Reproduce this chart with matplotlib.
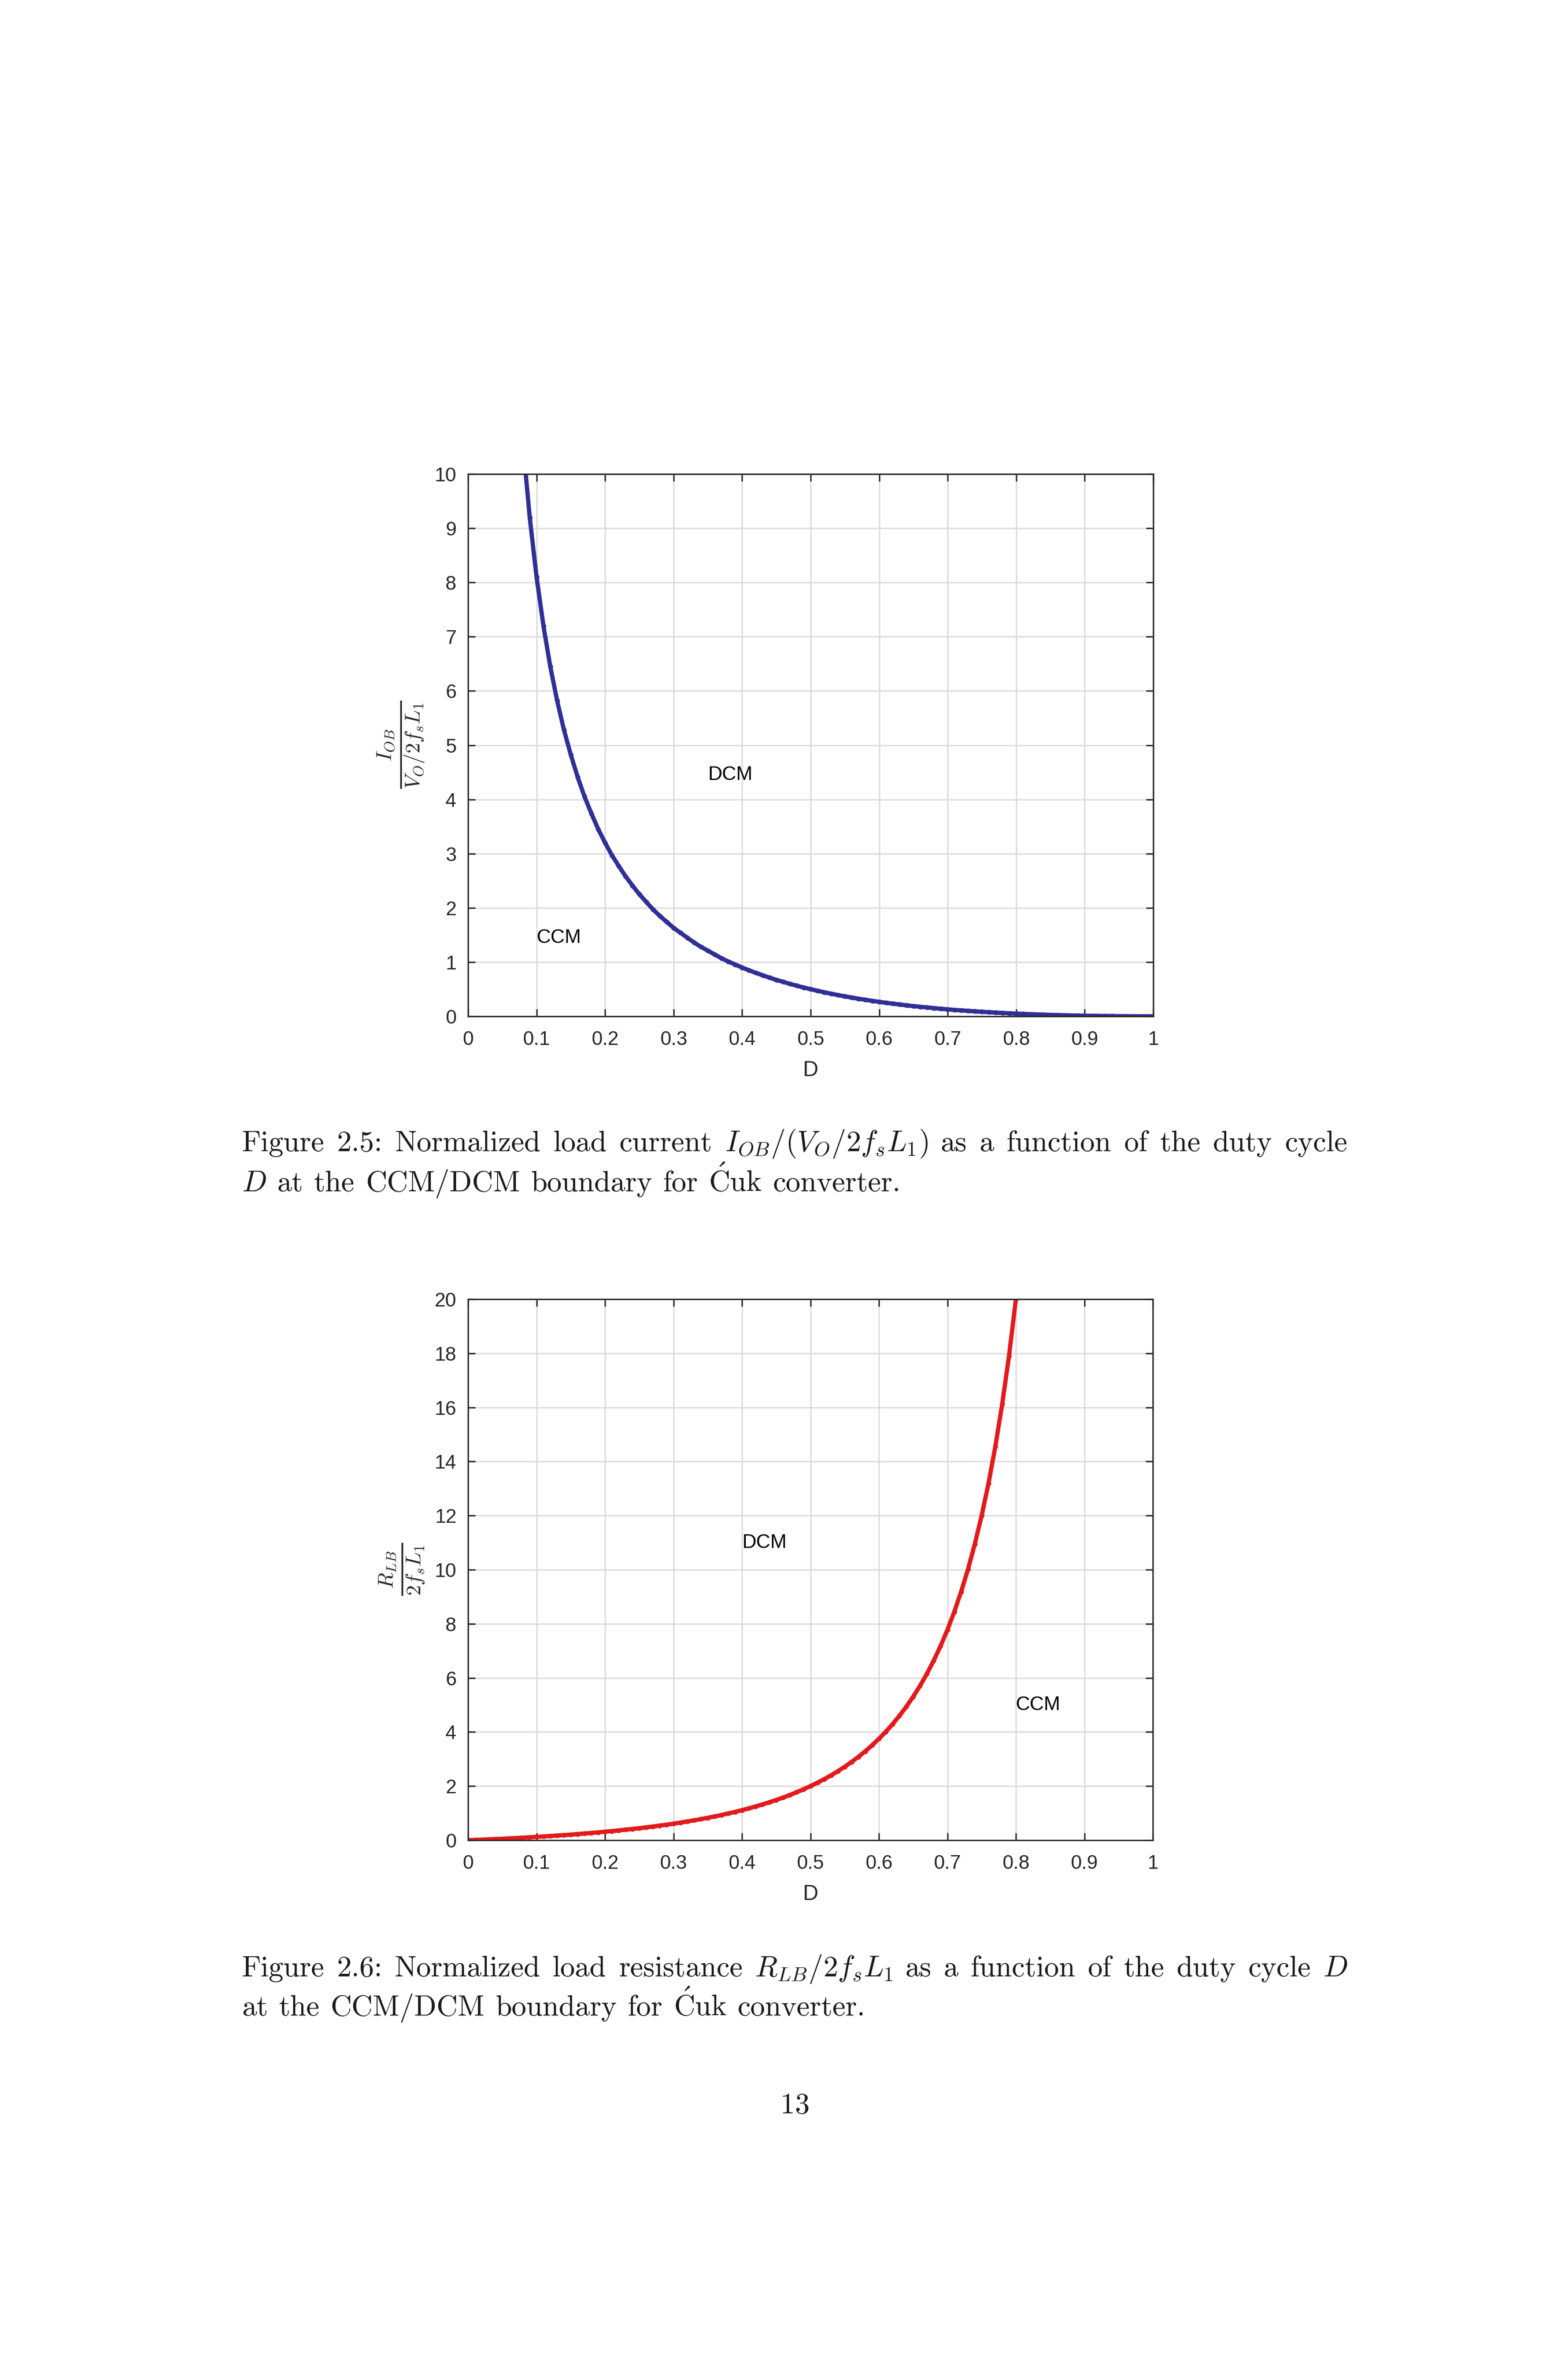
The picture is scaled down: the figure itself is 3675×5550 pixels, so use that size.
import numpy as np
import matplotlib
matplotlib.use('Agg')
import matplotlib.pyplot as plt

# duty cycle values and curves
d_iob = [0.08, 0.09, 0.10, 0.11, 0.12, 0.13, 0.14, 0.15, 0.16, 0.17, 0.18, 0.19,
         0.20, 0.21, 0.22, 0.23, 0.24, 0.25, 0.26, 0.27, 0.28, 0.29, 0.30, 0.31,
         0.32, 0.33, 0.34, 0.35, 0.36, 0.37, 0.38, 0.39, 0.40, 0.41, 0.42, 0.43,
         0.44, 0.45, 0.46, 0.47, 0.48, 0.49, 0.50, 0.51, 0.52, 0.53, 0.54, 0.55,
         0.56, 0.57, 0.58, 0.59, 0.60, 0.61, 0.62, 0.63, 0.64, 0.65, 0.66, 0.67,
         0.68, 0.69, 0.70, 0.71, 0.72, 0.73, 0.74, 0.75, 0.76, 0.77, 0.78, 0.79,
         0.80, 0.81, 0.82, 0.83, 0.84, 0.85, 0.86, 0.87, 0.88, 0.89, 0.90, 0.91,
         0.92, 0.93, 0.94, 0.95, 0.96, 0.97, 0.98, 0.99, 1.00]
iob = [10.58, 9.20, 8.10, 7.20, 6.45, 5.82, 5.28, 4.82, 4.41, 4.05, 3.74, 3.45,
       3.20, 2.97, 2.77, 2.58, 2.41, 2.25, 2.11, 1.97, 1.85, 1.74, 1.63, 1.54,
       1.45, 1.36, 1.28, 1.21, 1.14, 1.07, 1.01, 0.954, 0.900, 0.849, 0.801, 0.756,
       0.713, 0.672, 0.634, 0.598, 0.563, 0.531, 0.500, 0.471, 0.443, 0.417, 0.392, 0.368,
       0.346, 0.324, 0.304, 0.285, 0.267, 0.249, 0.233, 0.217, 0.203, 0.188, 0.175, 0.163,
       0.151, 0.139, 0.129, 0.118, 0.109, 0.100, 0.091, 0.083, 0.076, 0.069, 0.062, 0.056,
       0.050, 0.045, 0.040, 0.035, 0.030, 0.026, 0.023, 0.019, 0.016, 0.014, 0.011, 0.009,
       0.007, 0.005, 0.004, 0.003, 0.002, 0.001, 0.0004, 0.0001, 0.0]

d_rlb = [0.00, 0.01, 0.02, 0.03, 0.04, 0.05, 0.06, 0.07, 0.08, 0.09, 0.10, 0.11,
         0.12, 0.13, 0.14, 0.15, 0.16, 0.17, 0.18, 0.19, 0.20, 0.21, 0.22, 0.23,
         0.24, 0.25, 0.26, 0.27, 0.28, 0.29, 0.30, 0.31, 0.32, 0.33, 0.34, 0.35,
         0.36, 0.37, 0.38, 0.39, 0.40, 0.41, 0.42, 0.43, 0.44, 0.45, 0.46, 0.47,
         0.48, 0.49, 0.50, 0.51, 0.52, 0.53, 0.54, 0.55, 0.56, 0.57, 0.58, 0.59,
         0.60, 0.61, 0.62, 0.63, 0.64, 0.65, 0.66, 0.67, 0.68, 0.69, 0.70, 0.71,
         0.72, 0.73, 0.74, 0.75, 0.76, 0.77, 0.78, 0.79, 0.80]
rlb = [0.0, 0.010, 0.021, 0.032, 0.043, 0.055, 0.068, 0.081, 0.095, 0.109, 0.124, 0.139,
       0.155, 0.172, 0.189, 0.208, 0.227, 0.247, 0.268, 0.290, 0.313, 0.337, 0.362, 0.388,
       0.416, 0.444, 0.475, 0.507, 0.540, 0.575, 0.612, 0.651, 0.692, 0.735, 0.781, 0.828,
       0.879, 0.932, 0.989, 1.048, 1.111, 1.178, 1.249, 1.323, 1.403, 1.488, 1.577, 1.673,
       1.775, 1.884, 2.000, 2.124, 2.257, 2.399, 2.552, 2.716, 2.893, 3.083, 3.288, 3.510,
       3.750, 4.011, 4.294, 4.602, 4.938, 5.306, 5.709, 6.152, 6.641, 7.180, 7.778, 8.442,
       9.184, 10.01, 10.95, 12.00, 13.19, 14.56, 16.12, 17.91, 20.00]

xticks = [0, 0.1, 0.2, 0.3, 0.4, 0.5, 0.6, 0.7, 0.8, 0.9, 1]
xticklabels = ['0', '0.1', '0.2', '0.3', '0.4', '0.5', '0.6', '0.7', '0.8', '0.9', '1']
yticks_top = list(range(0, 11))
yticks_bot = list(range(0, 21, 2))

W, H = 3675, 5550
plt.rcParams['mathtext.fontset'] = 'cm'
plt.rcParams['font.family'] = ['Liberation Sans', 'DejaVu Sans']

ink = '#262626'
cap_size = 16.5


def style_axes(ax, yticks, ylim):
    ax.set_xlim(0, 1)
    ax.set_ylim(*ylim)
    ax.set_xticks(xticks)
    ax.set_xticklabels(xticklabels)
    ax.set_yticks(yticks)
    ax.grid(True, color='#dcdcdc', lw=0.8)
    ax.set_axisbelow(True)
    ax.tick_params(direction='in', length=4, width=0.8, top=True, right=True,
                   colors=ink, labelsize=11)
    ax.tick_params(axis='x', pad=8)
    ax.tick_params(axis='y', pad=6.5)
    for s in ax.spines.values():
        s.set_color(ink)
        s.set_linewidth(0.8)
    ax.set_xlabel('D', fontsize=12, color=ink)
    ax.xaxis.set_label_coords(0.5, -0.1)
    ax.xaxis.label.set_va('center')


def text_line(fig, words, y, x0, x1=None):
    # place words on a baseline (y in px from top), justified when x1 given
    r = fig.canvas.get_renderer()
    ts = [fig.text(0, 1 - y / H, w, fontsize=cap_size, family='cmr10',
                   color='#1a1a1a', va='baseline', ha='left') for w in words]
    ws = [t.get_window_extent(r).width for t in ts]
    if x1 is None:
        gap = cap_size / 72 * 300 * 0.37
    else:
        gap = (x1 - x0 - sum(ws)) / (len(words) - 1)
    x = x0
    for t, w in zip(ts, ws):
        t.set_x(x / W)
        x += w + gap


def main():
    fig = plt.figure(figsize=(W / 300, H / 300), dpi=300)

    ax1 = fig.add_axes([1097 / W, 1 - 2382 / H, 1606 / W, 1271 / H])
    ax1.plot(d_iob, iob, color='#2f2f95', lw=2.4, marker='.', ms=3.5)
    style_axes(ax1, yticks_top, (0, 10))
    ax1.text(0.35, 4.45, 'DCM', fontsize=11, color='k', va='center')
    ax1.text(0.10, 1.45, 'CCM', fontsize=11, color='k', va='center')
    fig.text(940 / W, 1 - 1745 / H, r'$\frac{I_{OB}}{V_O/2f_sL_1}$', rotation=90,
             fontsize=17, ha='center', va='center', color=ink)

    ax2 = fig.add_axes([1097 / W, 1 - 4313 / H, 1605 / W, 1268 / H])
    ax2.plot(d_rlb, rlb, color='#e31a1c', lw=2.4, marker='.', ms=3.5)
    style_axes(ax2, yticks_bot, (0, 20))
    ax2.text(0.40, 11.0, 'DCM', fontsize=11, color='k', va='center')
    ax2.text(0.80, 5.0, 'CCM', fontsize=11, color='k', va='center')
    fig.text(943 / W, 1 - 3678 / H, r'$\frac{R_{LB}}{2f_sL_1}$', rotation=90,
             fontsize=17, ha='center', va='center', color=ink)

    x0, x1 = 567, 3158
    text_line(fig, ['Figure', '2.5:', 'Normalized', 'load', 'current',
                    r'$I_{OB}/(V_O/2f_sL_1)$', 'as', 'a', 'function', 'of',
                    'the', 'duty', 'cycle'], 2698, x0, x1)
    text_line(fig, [r'$D$', 'at', 'the', 'CCM/DCM', 'boundary', 'for',
                    r'$\acute{\mathrm{C}}$uk', 'converter.'], 2792, x0)
    text_line(fig, ['Figure', '2.6:', 'Normalized', 'load', 'resistance',
                    r'$R_{LB}/2f_sL_1$', 'as', 'a', 'function', 'of', 'the',
                    'duty', 'cycle', r'$D$'], 4632, x0, x1)
    text_line(fig, ['at', 'the', 'CCM/DCM', 'boundary', 'for',
                    r'$\acute{\mathrm{C}}$uk', 'converter.'], 4724, x0)

    fig.text(1863 / W, 1 - 4953 / H, '13', fontsize=cap_size, family='cmr10',
             color='#1a1a1a', ha='center', va='baseline')

    fig.savefig('out.png', dpi=300)


if __name__ == '__main__':
    main()
